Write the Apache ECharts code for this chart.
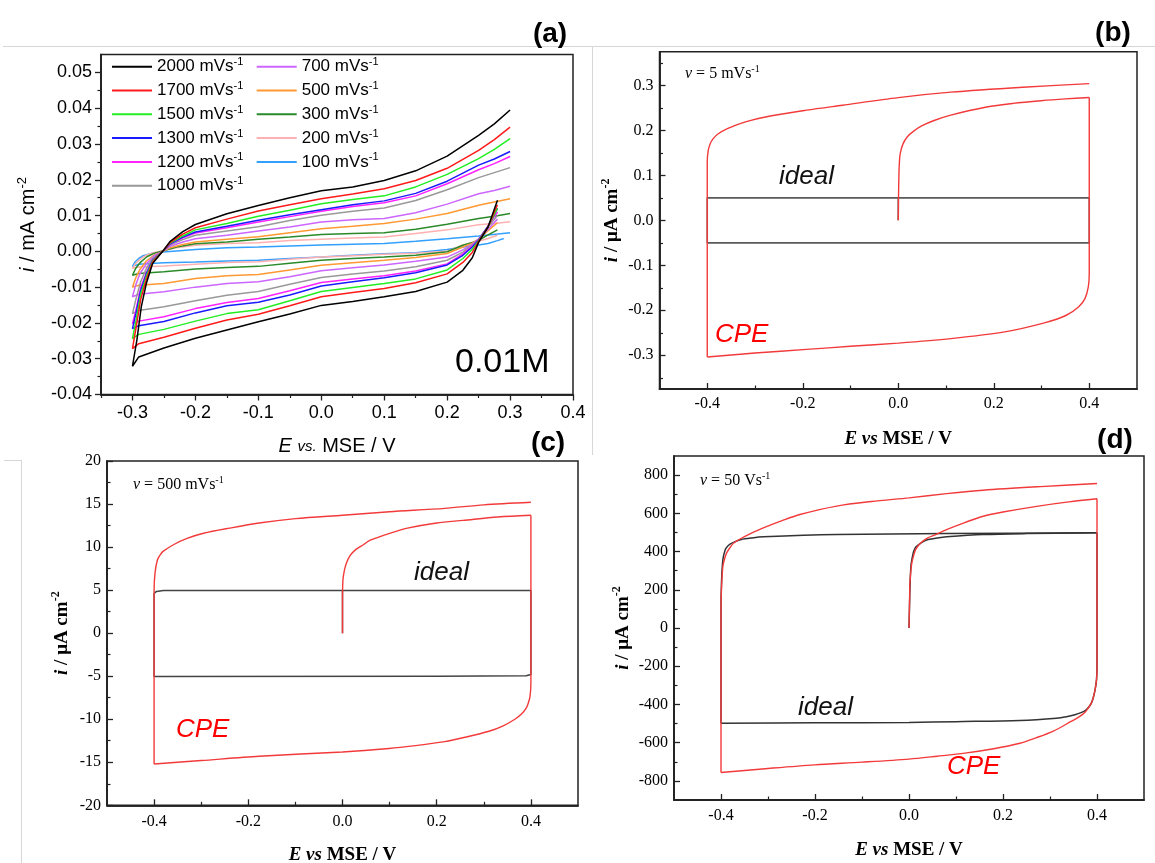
<!DOCTYPE html>
<html><head><meta charset="utf-8">
<script src="https://cdn.jsdelivr.net/npm/echarts@6/dist/echarts.min.js"></script>
<style>html,body{margin:0;padding:0;background:#fff;}#c{width:1155px;height:863px;}</style>
</head><body><div id="c"></div>
<script>
// ---------------- Panel (a) data: E (V vs MSE), i (mA cm-2) ----------------
const scanRatesA = ['2000','1700','1500','1300','1200','1000','700','500','300','200','100'];
const cv2000 = [[0.28,0.0143],[0.265,0.0068],[0.25,0.0025],[0.24,-0.0018],[0.225,-0.0053],[0.2,-0.0086],[0.15,-0.0112],[0.1,-0.0127],[0.05,-0.014],[0,-0.0151],[-0.05,-0.0175],[-0.1,-0.0197],[-0.15,-0.022],[-0.2,-0.0243],[-0.25,-0.027],[-0.29,-0.0295],[-0.3,-0.0321],[-0.293,-0.0248],[-0.286,-0.0155],[-0.278,-0.009],[-0.268,-0.0034],[-0.252,0],[-0.24,0.0028],[-0.22,0.0055],[-0.2,0.0075],[-0.15,0.0105],[-0.1,0.0128],[-0.05,0.015],[0,0.0169],[0.05,0.018],[0.1,0.0198],[0.15,0.0225],[0.2,0.0266],[0.25,0.0324],[0.275,0.0356],[0.3,0.0395]];
const cv1700 = [[0.28,0.013],[0.265,0.0068],[0.25,0.0028],[0.24,-0.0003],[0.225,-0.0031],[0.2,-0.0063],[0.15,-0.0088],[0.1,-0.0104],[0.05,-0.0115],[0,-0.0127],[-0.05,-0.0152],[-0.1,-0.0176],[-0.15,-0.0192],[-0.2,-0.0215],[-0.25,-0.024],[-0.29,-0.0258],[-0.3,-0.0272],[-0.294,-0.021],[-0.287,-0.0135],[-0.278,-0.0078],[-0.268,-0.003],[-0.252,0],[-0.24,0.0025],[-0.22,0.0048],[-0.2,0.0066],[-0.15,0.009],[-0.1,0.0113],[-0.05,0.013],[0,0.0147],[0.05,0.016],[0.1,0.0175],[0.15,0.0198],[0.2,0.0232],[0.25,0.0282],[0.275,0.0312],[0.3,0.0347]];
const cv1500 = [[0.28,0.012],[0.265,0.0068],[0.25,0.003],[0.24,0.0006],[0.225,-0.002],[0.2,-0.0052],[0.15,-0.0077],[0.1,-0.009],[0.05,-0.0101],[0,-0.0112],[-0.05,-0.0138],[-0.1,-0.0163],[-0.15,-0.0174],[-0.2,-0.0195],[-0.25,-0.0218],[-0.29,-0.0232],[-0.3,-0.0244],[-0.294,-0.019],[-0.287,-0.012],[-0.278,-0.007],[-0.268,-0.0027],[-0.252,0],[-0.24,0.0023],[-0.22,0.0043],[-0.2,0.006],[-0.15,0.0078],[-0.1,0.0098],[-0.05,0.0115],[0,0.0133],[0.05,0.0145],[0.1,0.0155],[0.15,0.018],[0.2,0.0215],[0.25,0.0259],[0.275,0.0285],[0.3,0.0315]];
const cv1300 = [[0.28,0.012],[0.265,0.007],[0.25,0.0032],[0.24,0.0012],[0.225,-0.0011],[0.2,-0.0038],[0.15,-0.006],[0.1,-0.0074],[0.05,-0.0085],[0,-0.0097],[-0.05,-0.0122],[-0.1,-0.0142],[-0.15,-0.0152],[-0.2,-0.0172],[-0.25,-0.0196],[-0.29,-0.0208],[-0.3,-0.0216],[-0.294,-0.017],[-0.287,-0.011],[-0.278,-0.0063],[-0.268,-0.0025],[-0.252,0],[-0.24,0.0021],[-0.22,0.004],[-0.2,0.0054],[-0.15,0.007],[-0.1,0.0087],[-0.05,0.0102],[0,0.0116],[0.05,0.013],[0.1,0.0141],[0.15,0.0162],[0.2,0.0196],[0.25,0.0241],[0.275,0.0258],[0.3,0.0279]];
const cv1200 = [[0.28,0.011],[0.265,0.007],[0.25,0.0033],[0.24,0.0015],[0.225,-0.0007],[0.2,-0.0035],[0.15,-0.0055],[0.1,-0.0068],[0.05,-0.0077],[0,-0.0087],[-0.05,-0.011],[-0.1,-0.0132],[-0.15,-0.0143],[-0.2,-0.016],[-0.25,-0.0183],[-0.29,-0.0195],[-0.3,-0.0202],[-0.294,-0.016],[-0.287,-0.0102],[-0.278,-0.006],[-0.268,-0.0024],[-0.252,0],[-0.24,0.002],[-0.22,0.0038],[-0.2,0.0051],[-0.15,0.0066],[-0.1,0.0082],[-0.05,0.0097],[0,0.0112],[0.05,0.0125],[0.1,0.0136],[0.15,0.0155],[0.2,0.0189],[0.25,0.0228],[0.275,0.0245],[0.3,0.0265]];
const cv1000 = [[0.28,0.01],[0.265,0.0068],[0.25,0.0034],[0.24,0.0018],[0.225,-0.0002],[0.2,-0.0025],[0.15,-0.0043],[0.1,-0.0055],[0.05,-0.0063],[0,-0.0073],[-0.05,-0.0092],[-0.1,-0.0112],[-0.15,-0.0123],[-0.2,-0.0138],[-0.25,-0.0155],[-0.29,-0.0165],[-0.3,-0.0174],[-0.294,-0.013],[-0.287,-0.0085],[-0.278,-0.0048],[-0.268,-0.002],[-0.252,0],[-0.24,0.0018],[-0.22,0.0033],[-0.2,0.0045],[-0.15,0.0057],[-0.1,0.0069],[-0.05,0.0086],[0,0.0101],[0.05,0.0112],[0.1,0.0121],[0.15,0.0142],[0.2,0.0172],[0.25,0.0206],[0.275,0.022],[0.3,0.0234]];
const cv700 = [[0.28,0.009],[0.265,0.0062],[0.25,0.0034],[0.24,0.002],[0.225,0.0004],[0.2,-0.0016],[0.15,-0.0028],[0.1,-0.0038],[0.05,-0.0046],[0,-0.0054],[-0.05,-0.0071],[-0.1,-0.0085],[-0.15,-0.009],[-0.2,-0.01],[-0.25,-0.0113],[-0.29,-0.012],[-0.3,-0.0127],[-0.295,-0.0095],[-0.288,-0.0062],[-0.278,-0.0035],[-0.266,-0.0013],[-0.252,0],[-0.24,0.0014],[-0.22,0.0026],[-0.2,0.0035],[-0.15,0.0045],[-0.1,0.0057],[-0.05,0.0068],[0,0.0082],[0.05,0.0088],[0.1,0.0092],[0.15,0.0108],[0.2,0.0132],[0.25,0.0161],[0.275,0.017],[0.3,0.0182]];
const cv500 = [[0.28,0.008],[0.265,0.0058],[0.25,0.0034],[0.24,0.0023],[0.225,0.0012],[0.2,-0.0006],[0.15,-0.0017],[0.1,-0.0025],[0.05,-0.0032],[0,-0.0039],[-0.05,-0.0052],[-0.1,-0.0065],[-0.15,-0.0068],[-0.2,-0.0076],[-0.25,-0.009],[-0.29,-0.0095],[-0.3,-0.01],[-0.295,-0.0075],[-0.288,-0.005],[-0.278,-0.0027],[-0.265,-0.001],[-0.252,0],[-0.24,0.001],[-0.22,0.0019],[-0.2,0.0026],[-0.15,0.0034],[-0.1,0.0041],[-0.05,0.0052],[0,0.0063],[0.05,0.007],[0.1,0.0078],[0.15,0.009],[0.2,0.0106],[0.25,0.0129],[0.275,0.0138],[0.3,0.0147]];
const cv300 = [[0.28,0.006],[0.265,0.0046],[0.25,0.0031],[0.24,0.0025],[0.225,0.0017],[0.2,-0.0001],[0.15,-0.0011],[0.1,-0.0016],[0.05,-0.002],[0,-0.0025],[-0.05,-0.0033],[-0.1,-0.0042],[-0.15,-0.0045],[-0.2,-0.0049],[-0.25,-0.0057],[-0.29,-0.0062],[-0.3,-0.0067],[-0.295,-0.0048],[-0.287,-0.003],[-0.277,-0.0015],[-0.265,-0.0005],[-0.252,0.0001],[-0.23,0.0012],[-0.2,0.0021],[-0.15,0.0026],[-0.1,0.0034],[-0.05,0.004],[0,0.0047],[0.05,0.005],[0.1,0.0052],[0.15,0.0062],[0.2,0.0076],[0.25,0.0092],[0.275,0.0098],[0.3,0.0106]];
const cv200 = [[0.28,0.0045],[0.265,0.0036],[0.25,0.0028],[0.24,0.0024],[0.225,0.0018],[0.2,0],[0.15,-0.0005],[0.1,-0.0008],[0.05,-0.0012],[0,-0.0016],[-0.05,-0.0022],[-0.1,-0.0029],[-0.15,-0.0031],[-0.2,-0.0036],[-0.25,-0.0041],[-0.29,-0.0044],[-0.3,-0.0047],[-0.295,-0.0034],[-0.287,-0.0021],[-0.277,-0.001],[-0.265,-0.0003],[-0.252,0.0002],[-0.23,0.001],[-0.2,0.0017],[-0.15,0.0022],[-0.1,0.0024],[-0.05,0.003],[0,0.0034],[0.05,0.0037],[0.1,0.004],[0.15,0.005],[0.2,0.006],[0.25,0.0074],[0.275,0.0078],[0.3,0.0083]];
const cv100 = [[0.29,0.0036],[0.28,0.003],[0.265,0.0022],[0.25,0.0018],[0.225,0.0012],[0.2,0.0005],[0.15,-0.0004],[0.1,-0.0007],[0.05,-0.0011],[0,-0.0016],[-0.05,-0.002],[-0.1,-0.0025],[-0.15,-0.0027],[-0.2,-0.003],[-0.25,-0.0032],[-0.29,-0.0036],[-0.3,-0.0042],[-0.296,-0.003],[-0.29,-0.002],[-0.283,-0.0012],[-0.27,-0.0006],[-0.252,-0.0002],[-0.23,0.0001],[-0.2,0.0005],[-0.15,0.001],[-0.1,0.0012],[-0.05,0.0015],[0,0.0018],[0.05,0.002],[0.1,0.0022],[0.15,0.0028],[0.2,0.0035],[0.25,0.0043],[0.3,0.0052]];
const curvesA = [cv2000, cv1700, cv1500, cv1300, cv1200, cv1000, cv700, cv500, cv300, cv200, cv100];
const ticksAX = [-0.3,-0.2,-0.1,0,0.1,0.2,0.3,0.4];
const minorAX = [-0.35,-0.25,-0.15,-0.05,0.05,0.15,0.25,0.35];
const ticksAY = [-0.04,-0.03,-0.02,-0.01,0,0.01,0.02,0.03,0.04,0.05];
const minorAY = [-0.035,-0.025,-0.015,-0.005,0.005,0.015,0.025,0.035,0.045];

// ---------------- Panel (b): v = 5 mV/s, i in uA cm-2 ----------------
const idealB = [[0,0],[0,0.05],[0.4,0.05],[0.4,-0.05],[-0.4,-0.05],[-0.4,0.05],[0,0.05]];
const cpeBRise = [[0,0],[0.001,0.08],[0.002,0.12],[0.004,0.148],[0.01,0.17],[0.019,0.186],[0.033,0.199],[0.049,0.21],[0.075,0.222],[0.11,0.234],[0.185,0.252],[0.24,0.26],[0.299,0.266],[0.35,0.27],[0.4,0.273]];
const cpeBReverse = [[0.4,0.273],[0.4,-0.118],[0.398,-0.148],[0.391,-0.174],[0.378,-0.192],[0.352,-0.211],[0.306,-0.228],[0.223,-0.248],[0.11,-0.263],[0,-0.273],[-0.1,-0.28],[-0.192,-0.287],[-0.3,-0.295],[-0.4,-0.304]];
const cpeBForward = [[-0.4,-0.304],[-0.4,0.13],[-0.398,0.155],[-0.394,0.17],[-0.388,0.181],[-0.379,0.191],[-0.358,0.204],[-0.32,0.219],[-0.268,0.232],[-0.192,0.245],[-0.117,0.256],[0,0.273],[0.11,0.285],[0.261,0.296],[0.4,0.304]];
const ticksBX = [-0.4,-0.2,0,0.2,0.4];
const minorBX = [-0.3,-0.1,0.1,0.3];
const ticksBY = [-0.3,-0.2,-0.1,0,0.1,0.2,0.3];
const minorBY = [-0.35,-0.25,-0.15,-0.05,0.05,0.15,0.25,0.35];

// ---------------- Panel (c): v = 500 mV/s ----------------
const idealC = [[0,0],[0,4.95],[0.4,4.95],[0.4,-4.8],[0.39,-4.95],[0.2,-5.0],[-0.4,-5.05],[-0.4,4.6],[-0.395,4.85],[-0.38,4.95],[0,4.95]];
const cpeCRise = [[0,0],[0,3.9],[0.001,6.2],[0.004,7.3],[0.008,8.1],[0.016,9],[0.028,9.7],[0.045,10.3],[0.059,10.8],[0.1,11.6],[0.138,12.2],[0.2,12.8],[0.256,13.1],[0.33,13.5],[0.4,13.7]];
const cpeCReverse = [[0.4,13.7],[0.4,-5.8],[0.398,-7.4],[0.394,-8.2],[0.39,-8.7],[0.38,-9.4],[0.366,-10],[0.34,-10.8],[0.311,-11.4],[0.26,-12.1],[0.217,-12.6],[0.15,-13.1],[0.099,-13.4],[0,-13.8],[-0.177,-14.3],[-0.3,-14.8],[-0.4,-15.2]];
const cpeCForward = [[-0.4,-15.2],[-0.4,5],[-0.398,7],[-0.393,8.5],[-0.387,9.1],[-0.381,9.5],[-0.358,10.3],[-0.33,11],[-0.295,11.6],[-0.24,12.2],[-0.177,12.8],[-0.1,13.3],[0,13.7],[0.1,14.1],[0.217,14.5],[0.3,14.9],[0.4,15.2]];
const ticksCY = [-20,-15,-10,-5,0,5,10,15,20];
const minorCY = [-17.5,-12.5,-7.5,-2.5,2.5,7.5,12.5,17.5];

// ---------------- Panel (d): v = 50 V/s ----------------
const idealDRise = [[0,0],[0.001,100],[0.002,201],[0.004,323],[0.007,370],[0.01,402],[0.015,425],[0.021,437],[0.03,452],[0.041,463],[0.06,471],[0.08,477],[0.158,489],[0.25,494],[0.4,498]];
const idealDReverse = [[0.4,498],[0.4,-201],[0.399,-270],[0.396,-323],[0.392,-365],[0.388,-393],[0.383,-412],[0.377,-428],[0.366,-443],[0.353,-454],[0.335,-464],[0.314,-472],[0.236,-484],[0.1,-490],[0,-494],[-0.2,-496],[-0.4,-498]];
const idealDForward = [[-0.4,-498],[-0.4,100],[-0.399,236],[-0.396,358],[-0.391,410],[-0.386,428],[-0.38,440],[-0.37,452],[-0.357,463],[-0.335,471],[-0.31,477],[-0.154,489],[0.08,494],[0.4,498]];
const cpeDRise = [[0,0],[0.001,120],[0.002,236],[0.004,300],[0.006,341],[0.01,380],[0.014,410],[0.02,432],[0.029,454],[0.04,472],[0.057,489],[0.08,515],[0.12,553],[0.158,585],[0.2,607],[0.275,638],[0.34,660],[0.4,676]];
const cpeDReverse = [[0.4,676],[0.4,-201],[0.399,-270],[0.396,-323],[0.392,-365],[0.388,-393],[0.381,-420],[0.373,-445],[0.36,-468],[0.345,-489],[0.306,-541],[0.27,-575],[0.236,-603],[0.18,-632],[0.119,-655],[0.06,-671],[0,-686],[-0.1,-702],[-0.201,-716],[-0.3,-735],[-0.4,-756]];
const cpeDForward = [[-0.4,-756],[-0.4,100],[-0.399,201],[-0.396,323],[-0.392,365],[-0.388,393],[-0.381,420],[-0.373,445],[-0.349,480],[-0.31,524],[-0.27,562],[-0.232,594],[-0.154,638],[-0.08,662],[0,681],[0.08,703],[0.158,721],[0.28,740],[0.4,756]];
const ticksDY = [-800,-600,-400,-200,0,200,400,600,800];
const minorDY = [-700,-500,-300,-100,100,300,500,700];

// ---------------- styles ----------------
const colorsA = ['#000000','#ff1a1a','#22ee22','#1a1aff','#ff22ff','#999999','#cc66ff','#ff9933','#2a8a2a','#ffb0b0','#33a0ff'];
const SANS = '"Liberation Sans", Arial, sans-serif';
const SERIF = '"Liberation Serif", "Times New Roman", serif';
const AX = '#222';

function xPair(gi, min, max, major, minor, fmt, font, size, inside, margin, name, nameGap, nameStyle) {
  return [
    {type:'value', gridIndex:gi, position:'bottom', min, max,
     name, nameLocation:'middle', nameGap, nameTextStyle:nameStyle,
     axisLine:{show:true,onZero:false,lineStyle:{color:AX,width:1.5}},
     axisTick:{show:true,inside,length:6,customValues:major,lineStyle:{color:AX,width:1.3}},
     axisLabel:{show:true,customValues:major,formatter:fmt,color:'#000',fontFamily:font,fontSize:size,margin},
     splitLine:{show:false}},
    {type:'value', gridIndex:gi, position:'bottom', min, max,
     axisLine:{show:true,onZero:false,lineStyle:{color:AX,width:1.5}},
     axisTick:{show:true,inside,length:3.5,customValues:minor,lineStyle:{color:AX,width:1.2}},
     axisLabel:{show:false}, splitLine:{show:false}}
  ];
}
function yPair(gi, min, max, major, minor, fmt, font, size, inside, margin, name, nameGap, nameStyle) {
  return [
    {type:'value', gridIndex:gi, position:'left', min, max,
     name, nameLocation:'middle', nameGap, nameTextStyle:nameStyle,
     axisLine:{show:true,onZero:false,lineStyle:{color:AX,width:1.5}},
     axisTick:{show:true,inside,length:6,customValues:major,lineStyle:{color:AX,width:1.3}},
     axisLabel:{show:true,customValues:major,formatter:fmt,color:'#000',fontFamily:font,fontSize:size,margin},
     splitLine:{show:false}},
    {type:'value', gridIndex:gi, position:'left', min, max,
     axisLine:{show:true,onZero:false,lineStyle:{color:AX,width:1.5}},
     axisTick:{show:true,inside,length:3.5,customValues:minor,lineStyle:{color:AX,width:1.2}},
     axisLabel:{show:false}, splitLine:{show:false}}
  ];
}
const f1 = v => (Math.abs(v) < 1e-9 ? 0 : v).toFixed(1);
const f2 = v => (Math.abs(v) < 1e-9 ? 0 : v).toFixed(2);
const f0 = v => String(Math.round(v));

const nameA = {fontFamily:SANS,fontSize:20,color:'#000',lineHeight:24,
  rich:{i:{fontStyle:'italic',fontSize:20,fontFamily:SANS,lineHeight:24},
        v:{fontStyle:'italic',fontSize:15,fontFamily:SANS,lineHeight:24},
        s:{fontSize:13,fontFamily:SANS,verticalAlign:'top',lineHeight:12}}};
const nameS = {fontFamily:SERIF,fontSize:19,fontWeight:'bold',color:'#000',lineHeight:24,
  rich:{i:{fontStyle:'italic',fontWeight:'bold',fontSize:19,fontFamily:SERIF,lineHeight:24},
        s:{fontSize:12,fontWeight:'bold',fontFamily:SERIF,verticalAlign:'top',lineHeight:12}}};
const xNameA = '{i|E} {v|vs.} MSE / V';
const yNameA = '{i|i} / mA cm{s|-2}';
const xNameS = '{i|E vs} MSE / V';
const yNameS = '{i|i} / μA cm{s|-2}';

const grids = [
  {left:101, top:54.5, width:472, height:340},
  {left:659.5, top:51.7, width:477.5, height:337.3},
  {left:107, top:461, width:471, height:344.3},
  {left:674, top:456, width:470, height:344}
].map(g => Object.assign(g, {show:true, borderColor:AX, borderWidth:1.5, backgroundColor:'transparent',
  containLabel:false, outerBoundsMode:'none'}));

const xAxis = [
  ...xPair(0,-0.35,0.4,ticksAX,minorAX,f1,SANS,18,false,10,xNameA,40,nameA),
  ...xPair(1,-0.5,0.5,ticksBX,minorBX,f1,SERIF,16,true,7,xNameS,38,nameS),
  ...xPair(2,-0.5,0.5,ticksBX,minorBX,f1,SERIF,16,true,8,xNameS,38,nameS),
  ...xPair(3,-0.5,0.5,ticksBX,minorBX,f1,SERIF,16,true,8,xNameS,38,nameS)
];
const yAxis = [
  ...yPair(0,-0.04,0.055,ticksAY,minorAY,f2,SANS,18,false,9,yNameA,61,nameA),
  ...yPair(1,-0.375,0.375,ticksBY,minorBY,f1,SERIF,16,true,6,yNameS,32,nameS),
  ...yPair(2,-20,20,ticksCY,minorCY,f0,SERIF,16,true,6,yNameS,33,nameS),
  ...yPair(3,-900,900,ticksDY,minorDY,f0,SERIF,16,true,6,yNameS,37,nameS)
];

const series = [];
for (let k = curvesA.length - 1; k >= 0; k--) {
  series.push({type:'line', name: scanRatesA[k] + ' mVs-1', xAxisIndex:0, yAxisIndex:0, data: curvesA[k],
    showSymbol:false, symbol:'none', smooth:false, lineStyle:{color:colorsA[k], width:1.5}, itemStyle:{color:colorsA[k]}, z:3});
}
function cvLine(name, data, gi, color, w, smooth) {
  return {type:'line', name, xAxisIndex:gi*2, yAxisIndex:gi*2, data, showSymbol:false, symbol:'none', smooth: smooth || false,
    lineStyle:{color, width:w}, itemStyle:{color}, z:3};
}
const RED = '#f23a3a';
series.push(cvLine('ideal (b)', idealB, 1, '#5a5a5a', 1.6));
[cpeBRise, cpeBReverse, cpeBForward].forEach(d => series.push(cvLine('CPE (b)', d, 1, RED, 1.4, 0.3)));
series.push(cvLine('ideal (c)', idealC, 2, '#444444', 1.5));
[cpeCRise, cpeCReverse, cpeCForward].forEach(d => series.push(cvLine('CPE (c)', d, 2, RED, 1.4, 0.3)));
[idealDRise, idealDReverse, idealDForward].forEach(d => series.push(cvLine('ideal (d)', d, 3, '#333333', 1.5, 0.3)));
[cpeDRise, cpeDReverse, cpeDForward].forEach(d => series.push(cvLine('CPE (d)', d, 3, RED, 1.4, 0.3)));

const legFmt = name => '{t|' + name.split(' ')[0] + ' mVs}{s|-1}';
const legText = {color:'#000', fontFamily:SANS, fontSize:17, lineHeight:20,
  rich:{t:{fontSize:17, fontFamily:SANS, lineHeight:20}, s:{fontSize:11, fontFamily:SANS, verticalAlign:'top', lineHeight:11}}};
const legendBase = {orient:'vertical', top:56.7, icon:'rect', itemWidth:40, itemHeight:2, itemGap:3.8,
  formatter:legFmt, textStyle:legText, selectedMode:false, padding:0};
const legend = [
  Object.assign({left:112, data: scanRatesA.slice(0,6).map(s => s + ' mVs-1')}, legendBase),
  Object.assign({left:256.7, data: scanRatesA.slice(6).map(s => s + ' mVs-1')}, legendBase)
];

function txt(x, y, text, style, align) {
  return {type:'text', x, y, z:10, silent:true,
    style:Object.assign({text, align:align||'left', verticalAlign:'middle', textAlign:align||'left', textVerticalAlign:'middle', fill:'#000'}, style)};
}
const vRich = {v:{fontStyle:'italic', fontFamily:SERIF, fontSize:16}, s:{fontSize:10, fontFamily:SERIF, verticalAlign:'top', lineHeight:10}};
const vStyle = {fontFamily:SERIF, fontSize:16, lineHeight:20, rich:vRich};
const lblStyle = {fontFamily:SANS, fontSize:28, fontWeight:'bold'};
const idealStyle = {fontFamily:SANS, fontSize:26, fontStyle:'italic', fill:'#111'};
const cpeStyle = {fontFamily:SANS, fontSize:26, fontStyle:'italic', fill:'#ff0000'};
const frame = (x1,y1,x2,y2) => ({type:'line', shape:{x1,y1,x2,y2}, style:{stroke:'#d6d6d6', lineWidth:1}, silent:true, z:0});

const graphic = [
  frame(3,46.5,592.5,46.5), frame(592.5,46.5,1155,46.5), frame(592.5,46.5,592.5,455),
  frame(21.5,460,21.5,863), frame(4,460.5,21.5,460.5),
  txt(550, 34, '(a)', lblStyle, 'center'),
  txt(1113, 33, '(b)', lblStyle, 'center'),
  txt(548, 443, '(c)', lblStyle, 'center'),
  txt(1115, 440, '(d)', lblStyle, 'center'),
  txt(455, 363, '0.01M', {fontFamily:SANS, fontSize:34}),
  txt(685, 74, '{v|v} = 5 mVs{s|-1}', vStyle),
  txt(779, 177, 'ideal', idealStyle),
  txt(715, 335, 'CPE', cpeStyle),
  txt(133, 485, '{v|v} = 500 mVs{s|-1}', vStyle),
  txt(414, 573, 'ideal', idealStyle),
  txt(176, 730, 'CPE', cpeStyle),
  txt(700, 481, '{v|v} = 50 Vs{s|-1}', vStyle),
  txt(798, 708, 'ideal', idealStyle),
  txt(947, 767, 'CPE', cpeStyle)
];

const chart = echarts.init(document.getElementById('c'), null, {renderer:'canvas'});
chart.setOption({backgroundColor:'#ffffff', animation:false, grid:grids, xAxis, yAxis, series, legend, graphic, tooltip:{show:false}});
</script></body></html>
